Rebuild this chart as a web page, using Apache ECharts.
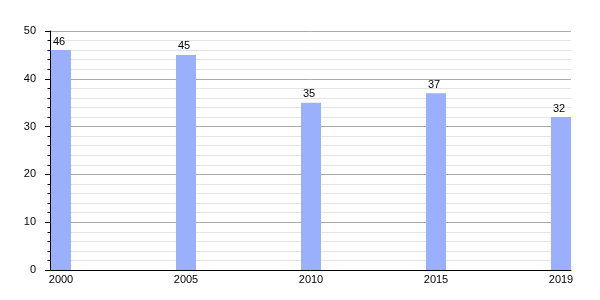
<!DOCTYPE html>
<html><head><meta charset="utf-8">
<script src="https://cdn.jsdelivr.net/npm/echarts@6/dist/echarts.min.js"></script>
<style>html,body{margin:0;padding:0;background:#fff}#c{width:600px;height:300px}</style>
</head><body><div id="c"></div>
<script>
const years = ['2000', '2005', '2010', '2015', '2019'];
const values = [46, 45, 35, 37, 32];
const yTicks = [0, 10, 20, 30, 40, 50];

const chart = echarts.init(document.getElementById('c'), null, {renderer: 'canvas'});
chart.setOption({
  animation: false,
  backgroundColor: '#ffffff',
  textStyle: {fontFamily: 'Liberation Sans, Arial, sans-serif'},
  grid: {left: 50, right: 29, top: 31, bottom: 30},
  xAxis: {
    type: 'value',
    min: -0.088, max: 4.08,
    axisLine: {show: true, onZero: false, lineStyle: {color: '#000', width: 1}},
    axisTick: {show: false},
    splitLine: {show: false},
    axisLabel: {
      customValues: years.map((y, i) => i),
      formatter: v => years[Math.round(v)],
      color: '#000', fontSize: 11, margin: 4,
      showMinLabel: true, showMaxLabel: true
    }
  },
  yAxis: {
    type: 'value',
    min: yTicks[0], max: yTicks[yTicks.length - 1], interval: 10,
    axisLine: {show: true, onZero: false, lineStyle: {color: '#000', width: 1}},
    axisTick: {show: true, length: 5, lineStyle: {color: '#000'}},
    minorTick: {show: true, splitNumber: 5, length: 2.5, lineStyle: {color: '#000'}},
    splitLine: {show: true, lineStyle: {color: '#aaaaaa', width: 1}},
    minorSplitLine: {show: true, lineStyle: {color: '#e4e4e4', width: 1}},
    axisLabel: {color: '#000', fontSize: 11, margin: 14}
  },
  series: [{
    type: 'bar',
    data: values.map((v, i) => [i, v]),
    barWidth: 20,
    itemStyle: {color: '#9bb0fc'},
    label: {show: true, position: 'top', color: '#000', fontSize: 11, distance: 3, offset: [-2, 0]}
  }]
});
</script></body></html>
